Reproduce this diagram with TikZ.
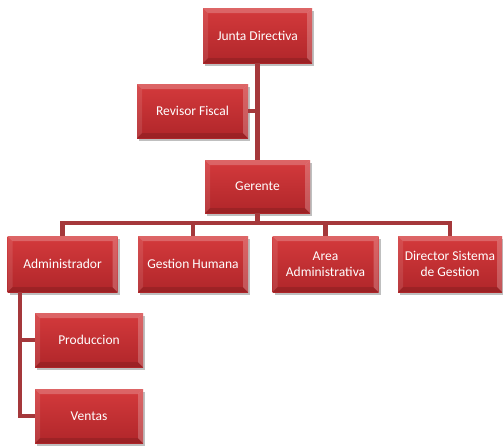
\documentclass[tikz,border=0pt]{standalone}
\usepackage{fontspec}
\setmainfont{Carlito}
\usetikzlibrary{shadows,calc}
\definecolor{boxtop}{HTML}{D43A3C}
\definecolor{boxbot}{HTML}{B0262A}
\definecolor{linkc}{HTML}{A5383B}
\tikzset{
  x=1pt,y=-1pt,
  orgbox/.style={rectangle, minimum width=#1, minimum height=55pt, inner sep=2pt,
    top color=boxtop, bottom color=boxbot, draw=none,
    text=white, font=\fontsize{13.5}{15.5}\selectfont, align=center,
    drop shadow={shadow xshift=2pt, shadow yshift=-3pt, fill=black, opacity=0.25},
    path picture={
      \coordinate (nw) at (path picture bounding box.north west);
      \coordinate (ne) at (path picture bounding box.north east);
      \coordinate (sw) at (path picture bounding box.south west);
      \coordinate (se) at (path picture bounding box.south east);
      \fill[white,opacity=0.22] (nw) -- (ne) -- ($(ne)+(-5,5)$) -- ($(nw)+(5,5)$) -- cycle;
      \fill[white,opacity=0.10] (nw) -- (sw) -- ($(sw)+(5,-5)$) -- ($(nw)+(5,5)$) -- cycle;
      \fill[black,opacity=0.12] (sw) -- (se) -- ($(se)+(-5,-5)$) -- ($(sw)+(5,-5)$) -- cycle;
      \fill[white,opacity=0.22] (ne) -- (se) -- ($(se)+(-5,-5)$) -- ($(ne)+(-5,5)$) -- cycle;
    }},
  orgbox/.default=108pt,
  link/.style={draw=linkc, line width=4.5pt}
}
\begin{document}
\begin{tikzpicture}
\useasboundingbox (0,0) rectangle (503,445);
\coordinate (rfj) at (257.5,111);
\node[orgbox=109pt] (jd) at (257.5,35.5) {Junta Directiva};
\node[orgbox=111pt, minimum height=54pt] (rf) at (192.5,111) {Revisor Fiscal};
\node[orgbox=105pt, minimum height=53pt] (ger) at (257.5,186.5) {Gerente};
\node[orgbox=110pt, minimum height=56pt] (adm) at (62.5,264) {Administrador};
\node[orgbox=110pt, minimum height=56pt] (gh) at (193,264) {Gestion Humana};
\node[orgbox=106pt, minimum height=56pt] (aa) at (325.5,264) {Area\\Administrativa};
\node[orgbox=104pt, minimum height=56pt] (dsg) at (450,264) {Director Sistema\\de Gestion};
\node[orgbox=108pt, minimum height=54pt] (prod) at (89,340) {Produccion};
\node[orgbox=108pt, minimum height=54pt] (ven) at (89,416) {Ventas};
\coordinate (bus) at (257.5,223);
\coordinate (av) at (20,292);
\draw[link] (jd.south) -- (ger.north);
\draw[link] (rf.east) -- (rfj);
\draw[link] (ger.south) -- (bus) -| (adm.north);
\draw[link] (bus) -| (gh.north);
\draw[link] (bus) -| (aa.north);
\draw[link] (bus) -| (dsg.north);
\draw[link] (av) |- (prod.west);
\draw[link] (av) |- (ven.west);
\end{tikzpicture}
\end{document}
